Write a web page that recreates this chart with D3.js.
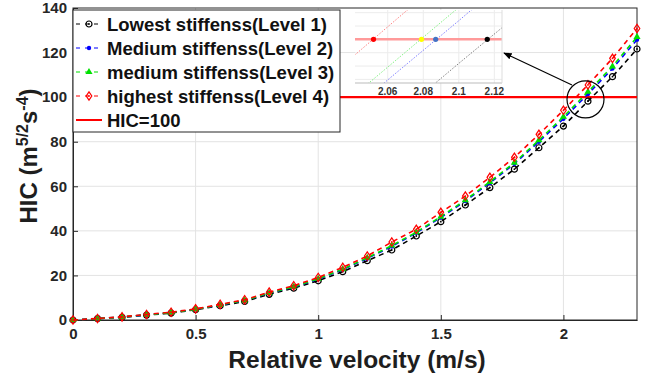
<!DOCTYPE html>
<html>
<head>
<meta charset="utf-8">
<script src="https://cdn.jsdelivr.net/npm/d3@7"></script>
<style>
  body { margin: 0; background: #fff; }
  text { font-family: "Liberation Sans", Arial, sans-serif; font-weight: bold; }
</style>
</head>
<body>
<div id="chart-area"></div>
<script>
// relative velocity (m/s)
var velocity = [0, 0.1, 0.2, 0.3, 0.4, 0.5, 0.6, 0.7, 0.8, 0.9, 1.0, 1.1,
                1.2, 1.3, 1.4, 1.5, 1.6, 1.7, 1.8, 1.9, 2.0, 2.1, 2.2, 2.3];
// HIC per stiffness level
var level1 = [0, 0.6, 1.2, 2.2, 3.1, 4.6, 6.4, 8.3, 11.5, 14.3, 17.6, 21.7,
              26.6, 31.4, 37.7, 44.1, 51.6, 59.4, 67.7, 77.3, 87.0, 98.2, 109.2, 121.6];
var level2 = [0, 0.65, 1.3, 2.3, 3.3, 4.8, 6.7, 8.7, 12.0, 14.8, 18.3, 22.6,
              27.6, 33.0, 39.1, 46.0, 53.4, 61.5, 70.1, 80.0, 90.3, 101.4, 112.8, 125.8];
var level3 = [0, 0.65, 1.3, 2.35, 3.3, 4.8, 6.8, 8.8, 12.1, 14.9, 18.5, 22.8,
              27.9, 33.4, 39.4, 46.4, 53.8, 62.0, 70.6, 80.7, 91.2, 102.4, 113.8, 127.0];
var level4 = [0, 0.7, 1.4, 2.5, 3.5, 5.0, 7.0, 9.1, 12.5, 15.4, 19.1, 23.6,
              28.7, 35.0, 40.7, 48.3, 55.6, 64.0, 73.0, 83.3, 94.1, 105.5, 117.4, 130.8];
var seriesNames = ["Lowest stiffenss(Level 1)", "Medium stiffenss(Level 2)",
                   "medium stiffenss(Level 3)", "highest stiffenss(Level 4)"];
var hicLimit = 100;
var xTicks = [0, 0.5, 1, 1.5, 2];
var yTicks = [0, 20, 40, 60, 80, 100, 120, 140];
// zoomed inset: where each curve crosses HIC=100
var crossV = [2.116, 2.087, 2.079, 2.052];
var insetTicks = [2.06, 2.08, 2.1, 2.12];

var colors = ["#000000", "#0000ff", "#00e000", "#ff0000"];
var insetDot = ["#000000", "#4472c4", "#ffff00", "#ff0000"];
var levels = [level1, level2, level3, level4];

var margin = { left: 73, right: 8, top: 8, bottom: 57 };
var W = 645, H = 377;
var width = W - margin.left - margin.right,
    height = H - margin.top - margin.bottom;

var svg = d3.select("#chart-area").append("svg")
    .attr("width", W).attr("height", H);
var g = svg.append("g")
    .attr("transform", "translate(" + margin.left + "," + margin.top + ")");

var x = d3.scaleLinear().domain([0, 2.3]).range([0, width]);
var y = d3.scaleLinear().domain([0, 140]).range([height, 0]);

// grid
g.append("g").selectAll("line").data(xTicks.filter(d => d > 0)).join("line")
    .attr("x1", d => x(d)).attr("x2", d => x(d)).attr("y1", 0).attr("y2", height)
    .attr("stroke", "#e3e3e3");
g.append("g").selectAll("line").data(yTicks.filter(d => d > 0 && d < 140)).join("line")
    .attr("y1", d => y(d)).attr("y2", d => y(d)).attr("x1", 0).attr("x2", width)
    .attr("stroke", "#e3e3e3");

// axes
var xAxis = g.append("g").attr("transform", "translate(0," + height + ")")
    .call(d3.axisBottom(x).tickValues(xTicks).tickFormat(d3.format("")).tickSizeInner(-5).tickSizeOuter(0).tickPadding(8));
var yAxis = g.append("g")
    .call(d3.axisLeft(y).tickValues(yTicks).tickSizeInner(-5).tickSizeOuter(0).tickPadding(6));
[xAxis, yAxis].forEach(a => {
    a.selectAll("text").style("font-size", "15px").attr("fill", "#262626");
    a.selectAll("line").attr("stroke", "#262626");
    a.select(".domain").attr("stroke", "#262626");
});
g.append("rect").attr("width", width).attr("height", height)
    .attr("fill", "none").attr("stroke", "#262626");

// HIC=100 line
g.append("line").attr("x1", 0).attr("x2", width)
    .attr("y1", y(hicLimit)).attr("y2", y(hicLimit))
    .attr("stroke", "#ff0000").attr("stroke-width", 2.2);

var line = d3.line().x((d, i) => x(velocity[i])).y(d => y(d));

function marker(sel, k, c) {
    if (k == 0) {
        sel.append("circle").attr("r", 3).attr("fill", "none").attr("stroke", c).attr("stroke-width", 1.2);
        sel.append("circle").attr("r", 0.9).attr("fill", c);
    } else if (k == 1) {
        sel.append("circle").attr("r", 2.2).attr("fill", c);
    } else if (k == 2) {
        sel.append("path").attr("d", d3.symbol(d3.symbolTriangle, 22)).attr("fill", c);
    } else {
        sel.append("path").attr("d", "M0,-4.2L2.8,0L0,4.2L-2.8,0Z")
            .attr("fill", "none").attr("stroke", c).attr("stroke-width", 1.2);
        sel.append("circle").attr("r", 0.9).attr("fill", c);
    }
}

levels.forEach((vals, k) => {
    g.append("path").datum(vals).attr("d", line)
        .attr("fill", "none").attr("stroke", colors[k]).attr("stroke-width", 1.6)
        .attr("stroke-dasharray", "5,4");
    g.append("g").selectAll("g").data(vals).join("g")
        .attr("transform", (d, i) => "translate(" + x(velocity[i]) + "," + y(d) + ")")
        .each(function () { marker(d3.select(this), k, colors[k]); });
});

// zoom circle
var cx = x(2.09), cy = y(99);
g.append("circle").attr("cx", cx).attr("cy", cy).attr("r", 18.5)
    .attr("fill", "none").attr("stroke", "#000").attr("stroke-width", 1.2);

// legend
var lg = svg.append("g").attr("transform", "translate(73,10)");
lg.append("rect").attr("width", 267).attr("height", 122)
    .attr("fill", "#fff").attr("stroke", "#262626");
seriesNames.concat(["HIC=100"]).forEach((name, k) => {
    var ly = 14 + k * 24;
    var row = lg.append("g").attr("transform", "translate(0," + ly + ")");
    if (k < 4) {
        row.append("line").attr("x1", 3).attr("x2", 29).attr("stroke", colors[k])
            .attr("stroke-width", 1.2).attr("stroke-dasharray", "4,5");
        marker(row.append("g").attr("transform", "translate(16,0)"), k, colors[k]);
    } else {
        row.append("line").attr("x1", 3).attr("x2", 29).attr("stroke", "#ff0000").attr("stroke-width", 2);
    }
    row.append("text").attr("x", 34).attr("dy", "0.36em").style("font-size", "18.5px")
        .attr("fill", "#111").text(name);
});

// inset
var ix = d3.scaleLinear().domain([2.0416, 2.1243]).range([355, 502]);
var iy = d3.scaleLinear().domain([96.73, 102.2]).range([83, 10]);
var inset = svg.append("g");
inset.append("rect").attr("x", 355).attr("y", 10).attr("width", 147).attr("height", 73)
    .attr("fill", "#fff");
inset.append("clipPath").attr("id", "ic").append("rect")
    .attr("x", 355).attr("y", 10).attr("width", 147).attr("height", 73);
inset.append("g").selectAll("line").data(insetTicks).join("line")
    .attr("x1", d => ix(d)).attr("x2", d => ix(d)).attr("y1", 10).attr("y2", 83)
    .attr("stroke", "#ececec");
inset.append("g").selectAll("line").data(d3.range(97, 103)).join("line")
    .attr("y1", d => iy(d)).attr("y2", d => iy(d)).attr("x1", 355).attr("x2", 502)
    .attr("stroke", "#ececec");
var iline = d3.line().x((d, i) => ix(velocity[i])).y(d => iy(d));
var ic = inset.append("g").attr("clip-path", "url(#ic)");
ic.append("line").attr("x1", 355).attr("x2", 502).attr("y1", iy(hicLimit)).attr("y2", iy(hicLimit))
    .attr("stroke", "#ff9a9a").attr("stroke-width", 2.5);
levels.forEach((vals, k) => {
    ic.append("path").datum(vals).attr("d", iline).attr("fill", "none")
        .attr("stroke", colors[k]).attr("stroke-opacity", 0.55).attr("stroke-width", 0.9)
        .attr("stroke-dasharray", "1.5,1.5");
});
ic.append("g").selectAll("circle").data(crossV).join("circle")
    .attr("cx", d => ix(d)).attr("cy", iy(hicLimit)).attr("r", 2.6)
    .attr("fill", (d, i) => insetDot[i]);
inset.append("line").attr("x1", 355).attr("x2", 502).attr("y1", 83).attr("y2", 83).attr("stroke", "#bbb");
inset.append("line").attr("x1", 502).attr("x2", 502).attr("y1", 10).attr("y2", 83).attr("stroke", "#ddd");
inset.append("g").selectAll("text").data(insetTicks).join("text")
    .attr("x", d => ix(d)).attr("y", 95).attr("text-anchor", "middle")
    .style("font-size", "10px").attr("fill", "#333").text(d => d);

// arrow
svg.append("defs").append("marker").attr("id", "ah").attr("viewBox", "0 0 10 10")
    .attr("refX", 9).attr("refY", 5).attr("markerWidth", 7).attr("markerHeight", 7)
    .attr("orient", "auto").append("path").attr("d", "M0,1L10,5L0,9Z").attr("fill", "#000");
svg.append("line").attr("x1", 572).attr("y1", 85).attr("x2", 504).attr("y2", 53)
    .attr("stroke", "#000").attr("stroke-width", 1.2).attr("marker-end", "url(#ah)");

// axis titles
svg.append("text").attr("x", 357).attr("y", 368)
    .attr("text-anchor", "middle").style("font-size", "24.5px").attr("fill", "#1e1e1e")
    .text("Relative velocity (m/s)");
var yl = svg.append("text").attr("transform", "translate(37,156) rotate(-90)")
    .attr("text-anchor", "middle").style("font-size", "24px").attr("fill", "#1e1e1e");
yl.append("tspan").text("HIC (m");
yl.append("tspan").attr("dy", -9).style("font-size", "16px").text("5/2");
yl.append("tspan").attr("dy", 9).text("s");
yl.append("tspan").attr("dy", -9).style("font-size", "16px").text("-4");
yl.append("tspan").attr("dy", 9).text(")");
</script>
</body>
</html>
